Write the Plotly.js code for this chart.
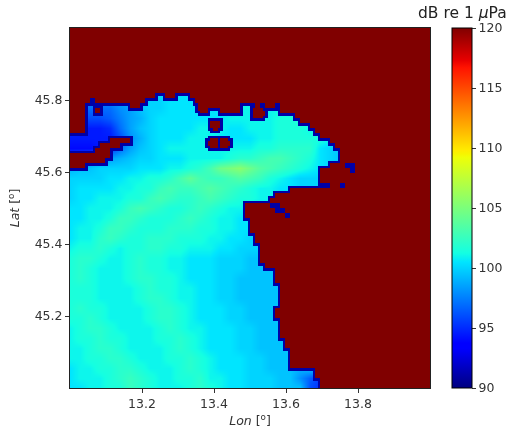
<!DOCTYPE html>
<html>
<head>
<meta charset="utf-8">
<script src="https://cdn.plot.ly/plotly-3.0.1.min.js"></script>
<style>
html,body{margin:0;padding:0;background:#fff;}
#chart{width:510px;height:430px;filter:blur(0.6px);}
</style>
</head>
<body>
<div id="chart"></div>
<script>
// Sound level codes: one character per sample, 0 = 94 dB, each next code +0.5 dB.
const levelCodes = "0123456789abcdefghijklmnop";
const seaRows = [
"89999 abccd ddddd ddddd ddddd dddc",
"77888 9abcc ddddd ddeee eeeee eddc",
"66666 89bcc ddddd ddeee eefff eedc",
"44445 79acd ddddd deeee effff feec",
"21112 69bcd dddee eddee efffe eedc",
"11111 48acd ddeee dddde effff fedc",
"00012 69bcd eeeee eeeef fgggg dcbb",
"56789 abccd ddeee efggh iihgf dcbb",
"abbcc ccddd eefgi lmnlj ihgfe dcbb",
"ccccd deeff gikih hijih fedcc cbbb",
"cdddd eeffh ihhij ihgfe eddcc cbbb",
"cddee effhi hgghi hgffe eddcc cbbb",
"ddeee fhihg ffghg feedd dcccb bbbb",
"ddeef hhgff fghgf eeddc ccbbb bbbb",
"deefh hgfff gggff eeddc ccbbb bbbb",
"deegh gffgg gfffe eddcc cbbbb bbbb",
"effgf effgg ffeee ddccc bbbbb bbbb",
"fggfe efgff eeddd cccbb bbbbb bbbb",
"fgfee efgff eeddd cccbb bbbbb bbbb",
"fgfee efggf feddd ccbbb bbbbb bbbb",
"fffee eefgf feedd ccbbb bbbbb bbbb",
"fffee eefgg feedd ccbbb bbbbb bbbb",
"fgffe eeefg gfedd dccbb bbbbb bbbb",
"ffgfe eeefg gfedd dccbb bbbbb bbbb",
"efggf eeeef gfeed ddccb bbbbb bbbb",
"effgf feeef fgfed ddccb bbbbb bbbb",
"eefgg feeee fgfed ddccb bbbbb bbbb",
"eeffg gfeee ffgfe dddcc bbbbb bbbb",
"deeff ggfee efgfe dddcc bbbab bbbb",
"deeef ghgfe effge eddcc cbb85 3bbb",
"ddeef fhgfe eefgf eddcc cbbb4 2bbb"
];
const seaLon0 = 13, seaLat0 = 45.8333, seaStep = 1 / 36;

// Water stretches per row of the coast grid, top to bottom, as [first column, end column).
const coastCells = 72, firstWaterRow = 13;
const waterSpans = [
[[17,19],[21,24]],
[[4,5],[15,25]],
[[3,12],[14,26],[34,37],[38,39],[41,42]],
[[3,5],[6,30],[34,42]],
[[3,45]],
[[3,46]],
[[3,48]],
[[3,49]],
[[0,50]],
[[0,8],[12,52]],
[[0,6],[10,53]],
[[0,5],[8,54]],
[[8,54]],
[[7,54]],
[[3,52],[55,57]],
[[0,50],[56,57]],
[[0,50]],
[[0,50]],
[[0,52],[54,55]],
[[0,44]],
[[0,41]],
[[0,40]],
[[0,35],[40,42]],
[[0,35],[41,43]],
[[0,35],[43,44]],
[[0,36]],
[[0,36]],
[[0,36]],
[[0,37]],
[[0,37]],
[[0,38]],
[[0,38]],
[[0,38]],
[[0,38]],
[[0,39]],
[[0,41]],
[[0,41]],
[[0,41]],
[[0,42]],
[[0,42]],
[[0,42]],
[[0,42]],
[[0,42]],
[[0,41]],
[[0,41]],
[[0,42]],
[[0,42]],
[[0,42]],
[[0,42]],
[[0,43]],
[[0,43]],
[[0,44]],
[[0,44]],
[[0,44]],
[[0,44]],
[[0,49]],
[[0,49]],
[[0,50]],
[[0,50]]
];
// Small islands
const islandLon = [13.369, 13.403, 13.397, 13.428, 13.522];
const islandLat = [45.781, 45.731, 45.681, 45.681, 45.764];
const islandRadius = [0.0167, 0.015, 0.0145, 0.0145, 0.0167];
const landLevel = 120, coastLevel = 91;

const lonTicks = [13.2, 13.4, 13.6, 13.8];
const latTicks = [45.2, 45.4, 45.6, 45.8];
const dbTicks = [90, 95, 100, 105, 110, 115, 120];

const jet = [
[0,'rgb(0,0,128)'],[0.11,'rgb(0,0,255)'],[0.125,'rgb(0,0,255)'],[0.34,'rgb(0,219,255)'],
[0.35,'rgb(0,229,255)'],[0.375,'rgb(20,255,226)'],[0.64,'rgb(238,255,8)'],[0.65,'rgb(247,245,0)'],
[0.66,'rgb(255,236,0)'],[0.89,'rgb(255,19,0)'],[0.91,'rgb(232,0,0)'],[1,'rgb(128,0,0)']
];

// Sea field, coarse and smoothed
const seaZ = seaRows.slice().reverse().map(r =>
  r.replace(/ /g,'').split('').map(c => 94 + levelCodes.indexOf(c) * 0.5));
const seaLon = seaZ[0].map((_, i) => seaLon0 + i * seaStep);
const seaLat = seaZ.map((_, j) => 45 + j * seaStep);

// Land and coast, drawn on a grid twice as fine as the spans
const sub = 2, n = coastCells * sub, cell = 1 / n;
const isWater = [];
for (let j = 0; j < n; j++) {
  const spans = waterSpans[Math.floor(j / sub) - firstWaterRow] || [];
  const row = [];
  for (let i = 0; i < n; i++) {
    const c = i / sub;
    let w = spans.some(s => c >= s[0] && c < s[1]);
    const lon = 13 + (i + 0.5) * cell, lat = 46 - (j + 0.5) * cell;
    islandLon.forEach((o, k) => {
      if (Math.hypot(lon - o, lat - islandLat[k]) < islandRadius[k]) w = false;
    });
    row.push(w);
  }
  isWater.push(row);
}
const maskTop = isWater.map((row, j) => row.map((w, i) => {
  if (!w) return landLevel;
  for (let a = -1; a <= 1; a++) for (let b = -1; b <= 1; b++) {
    const r = isWater[j + a];
    if (r && r[i + b] === false) return coastLevel;
  }
  return null;
}));
const maskZ = maskTop.slice().reverse();
const maskLon = maskZ[0].map((_, i) => 13 + (i + 0.5) * cell);
const maskLat = maskZ.map((_, j) => 45 + (j + 0.5) * cell);

const textFont = {family: 'DejaVu Sans', size: 12.5, color: '#333'};
const traces = [
 {type:'heatmap', x:seaLon, y:seaLat, z:seaZ, zmin:90, zmax:120, colorscale:jet, zsmooth:'best', showscale:false, hoverinfo:'skip'},
 {type:'heatmap', x:maskLon, y:maskLat, z:maskZ, zmin:90, zmax:120, colorscale:jet, zsmooth:false, hoverongaps:false,
  showscale:true,
  colorbar:{x:1.0611, xanchor:'left', xref:'paper', y:0.5, yanchor:'middle', lenmode:'fraction', len:1,
    thicknessmode:'pixels', thickness:20, xpad:0, ypad:0, outlinecolor:'#000', outlinewidth:1,
    tickmode:'array', tickvals:dbTicks, ticktext:dbTicks.map(String), ticks:'outside', ticklen:4, tickcolor:'#333', tickfont:textFont}}
];
const layout = {
  width:510, height:430, margin:{l:70, r:80, t:28, b:42, autoexpand:false}, paper_bgcolor:'#fff', plot_bgcolor:'#fff', showlegend:false,
  font:textFont,
  xaxis:{range:[13,14], tickmode:'array', tickvals:lonTicks, ticktext:lonTicks.map(v=>v.toFixed(1)), ticks:'outside', ticklen:4, tickcolor:'#333',
    showgrid:false, zeroline:false, showline:true, linecolor:'#222', linewidth:1, mirror:true, tickfont:textFont,
    title:{text:'<i>Lon</i> [<sup>o</sup>]', font:{family:'DejaVu Sans', size:12.5, color:'#333'}, standoff:6}},
  yaxis:{range:[45,46], tickmode:'array', tickvals:latTicks, ticktext:latTicks.map(v=>v.toFixed(1)), ticks:'outside', ticklen:4, tickcolor:'#333',
    showgrid:false, zeroline:false, showline:true, linecolor:'#222', linewidth:1, mirror:true, tickfont:textFont,
    title:{text:'<i>Lat</i> [<sup>o</sup>]', font:{family:'DejaVu Sans', size:12.5, color:'#333'}, standoff:12}},
  annotations:[{text:'dB re 1 <i>μ</i>Pa', xref:'paper', yref:'paper', x:1.0889, y:1, xanchor:'center', yanchor:'bottom', yshift:4, showarrow:false,
    font:{family:'DejaVu Sans', size:15.5, color:'#222'}}]
};
Plotly.newPlot('chart', traces, layout, {displayModeBar:false, staticPlot:true});
</script>
</body>
</html>
